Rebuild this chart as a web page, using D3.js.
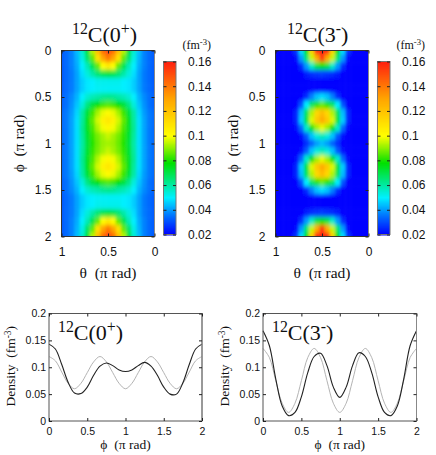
<!DOCTYPE html>
<html>
<head>
<meta charset="utf-8">
<script src="https://cdn.jsdelivr.net/npm/d3@7"></script>
<style>
body { margin: 0; background: #fff; }
svg { display: block; }
text { fill: #111; }
.num { font-family: "Liberation Sans", sans-serif; }
.ser { font-family: "Liberation Serif", serif; }
</style>
</head>
<body>
<div id="chart-area"></div>
<script>
// density, in 10^-3 fm^-3
// one row per phi step of 1/12 pi, columns run across theta
const map0 = [
	[32,34,37,44,55,72,94,122,142,152,142,122,94,72,55,44,37,34,32],
	[32,34,37,43,53,67,86,110,130,140,130,110,86,67,53,43,37,34,32],
	[32,34,37,42,50,58,70,86,100,107,100,86,70,58,50,42,37,34,32],
	[32,34,36,41,48,54,60,66,70,72,70,66,60,54,48,41,36,34,32],
	[32,34,36,41,46,49,50,52,52,52,52,52,50,49,46,41,36,34,32],
	[32,34,36,41,46,49,50,51,51,51,51,51,50,49,46,41,36,34,32],
	[33,35,38,43,50,55,58,60,62,63,62,60,58,55,50,43,38,35,33],
	[33,35,39,45,54,64,72,78,83,85,83,78,72,64,54,45,39,35,33],
	[34,36,40,47,60,72,83,92,98,101,98,92,83,72,60,47,40,36,34],
	[34,36,41,48,61,75,86,96,104,108,104,96,86,75,61,48,41,36,34],
	[34,36,41,48,62,74,84,93,99,102,99,93,84,74,62,48,41,36,34],
	[34,36,41,48,61,73,82,88,92,95,92,88,82,73,61,48,41,36,34],
	[34,36,41,48,60,72,81,87,91,92,91,87,81,72,60,48,41,36,34],
	[34,36,41,48,61,73,82,88,92,95,92,88,82,73,61,48,41,36,34],
	[34,36,41,48,62,74,84,93,99,102,99,93,84,74,62,48,41,36,34],
	[34,36,41,48,61,75,86,96,104,108,104,96,86,75,61,48,41,36,34],
	[34,36,40,47,60,72,83,92,98,101,98,92,83,72,60,47,40,36,34],
	[33,35,39,45,54,64,72,78,83,85,83,78,72,64,54,45,39,35,33],
	[33,35,38,43,50,55,58,60,62,63,62,60,58,55,50,43,38,35,33],
	[32,34,36,41,46,49,50,51,51,51,51,51,50,49,46,41,36,34,32],
	[32,34,36,41,46,49,50,52,52,52,52,52,50,49,46,41,36,34,32],
	[32,34,36,41,48,54,60,66,70,72,70,66,60,54,48,41,36,34,32],
	[32,34,37,42,50,58,70,86,100,107,100,86,70,58,50,42,37,34,32],
	[32,34,37,43,53,67,86,110,130,140,130,110,86,67,53,43,37,34,32],
	[32,34,37,44,55,72,94,122,142,152,142,122,94,72,55,44,37,34,32]
]
const map3 = [
	[14,14,15,18,27,48,78,115,165,190,165,115,78,48,27,18,15,14,14],
	[14,14,15,16,22,40,66,95,128,155,128,95,66,40,22,16,15,14,14],
	[14,14,15,15,17,26,40,56,70,78,70,56,40,26,17,15,15,14,14],
	[13,13,14,15,17,20,24,26,27,28,27,26,24,20,17,15,14,13,13],
	[12,12,12,12,12,12,12,12,12,12,12,12,12,12,12,12,12,12,12],
	[13,13,14,14,15,16,18,19,20,20,20,19,18,16,15,14,14,13,13],
	[13,13,14,15,15,19,26,37,45,48,45,37,26,19,15,15,14,13,13],
	[14,14,15,15,20,31,50,67,81,87,81,67,50,31,20,15,15,14,14],
	[14,14,15,17,25,44,68,93,113,122,113,93,68,44,25,17,15,14,14],
	[14,14,15,17,25,46,71,97,118,128,118,97,71,46,25,17,15,14,14],
	[14,14,15,16,21,34,56,76,92,98,92,76,56,34,21,16,15,14,14],
	[14,14,14,15,16,22,32,45,54,58,54,45,32,22,16,15,14,14,14],
	[14,14,14,14,16,20,26,33,40,44,40,33,26,20,16,14,14,14,14],
	[14,14,14,15,16,22,32,45,54,58,54,45,32,22,16,15,14,14,14],
	[14,14,15,16,21,34,56,76,92,98,92,76,56,34,21,16,15,14,14],
	[14,14,15,17,25,46,71,97,118,128,118,97,71,46,25,17,15,14,14],
	[14,14,15,17,25,44,68,93,113,122,113,93,68,44,25,17,15,14,14],
	[14,14,15,15,20,31,50,67,81,87,81,67,50,31,20,15,15,14,14],
	[13,13,14,15,15,19,26,37,45,48,45,37,26,19,15,15,14,13,13],
	[13,13,14,14,15,16,18,19,20,20,20,19,18,16,15,14,14,13,13],
	[12,12,12,12,12,12,12,12,12,12,12,12,12,12,12,12,12,12,12],
	[13,13,14,15,17,20,24,26,27,28,27,26,24,20,17,15,14,13,13],
	[14,14,15,15,17,26,40,56,70,78,70,56,40,26,17,15,15,14,14],
	[14,14,15,16,22,40,66,95,128,155,128,95,66,40,22,16,15,14,14],
	[14,14,15,18,27,48,78,115,165,190,165,115,78,48,27,18,15,14,14]
]

// line plots, same phi steps
const phiSteps = [0,1/12,2/12,3/12,4/12,5/12,6/12,7/12,8/12,9/12,10/12,11/12,1,13/12,14/12,15/12,16/12,17/12,18/12,19/12,20/12,21/12,22/12,23/12,2]
const black0 = [.143,.134,.105,.072,.052,.051,.063,.085,.102,.108,.103,.095,.092,.095,.103,.109,.102,.085,.063,.05,.05,.071,.105,.134,.143]
const grey0 = [.12,.112,.091,.07,.06,.07,.09,.11,.12,.11,.09,.07,.06,.07,.09,.11,.12,.11,.09,.07,.06,.07,.091,.112,.12]
const black3 = [.168,.14,.078,.028,.01,.016,.045,.09,.12,.126,.103,.063,.044,.063,.103,.127,.12,.09,.045,.016,.01,.028,.078,.14,.168]
const grey3 = [.135,.118,.075,.033,.016,.033,.075,.118,.135,.118,.075,.033,.016,.033,.075,.118,.135,.118,.075,.033,.016,.033,.075,.118,.135]

const thetaTicks = [1, 0.5, 0]
const phiTicks = [0, 0.5, 1, 1.5, 2]
const colorTicks = [0.02, 0.04, 0.06, 0.08, 0.1, 0.12, 0.14, 0.16]
const densityTicks = [0, 0.05, 0.1, 0.15, 0.2]
const lineTicks = [0, 0.5, 1, 1.5, 2]

const color = d3.scaleLinear()
	.domain([0.02, 0.035, 0.05, 0.078, 0.1, 0.13, 0.16])
	.range(["#0000ff", "#0070ff", "#00f0ff", "#00e000", "#ffff00", "#ffa500", "#ff2010"])
	.clamp(true)

const svg = d3.select("#chart-area").append("svg")
	.attr("width", 436)
	.attr("height", 455)

const defs = svg.append("defs")
defs.append("filter")
	.attr("id", "soft")
	.attr("filterUnits", "userSpaceOnUse")
	.attr("x", 0).attr("y", 0).attr("width", 436).attr("height", 455)
	.append("feGaussianBlur")
	.attr("stdDeviation", "1.5 2.1")

function styleAxis(a, col) {
	a.select(".domain").remove()
	a.selectAll(".tick line").attr("stroke", col || "#222")
	a.selectAll("text").attr("class", "num").style("font-size", "12px")
}

// 12C(0+) style label, the charge sign and mass number are raised
function isotope(parent, x, y, size, spin, sign) {
	const t = parent.append("text")
		.attr("class", "ser")
		.attr("x", x).attr("y", y)
		.style("font-size", size + "px")
	t.append("tspan").attr("dy", -size * 0.36).style("font-size", size * 0.72 + "px").text("12")
	t.append("tspan").attr("dy", size * 0.36).text("C(" + spin)
	t.append("tspan").attr("dy", -size * 0.38).style("font-size", size * 0.72 + "px").text(sign)
	t.append("tspan").attr("dy", size * 0.38).text(")")
}

function unitLabel(parent, x, y, size) {
	const t = parent.append("text").attr("class", "ser")
		.attr("x", x).attr("y", y).style("font-size", size + "px")
	t.append("tspan").text("(fm")
	t.append("tspan").attr("dy", -4).style("font-size", size * 0.72 + "px").text("-3")
	t.append("tspan").attr("dy", 4).text(")")
}

function heatPanel(id, grid, left, right, barLeft, spin, sign, titleX) {
	const top = 50.5, bottom = 236.5
	const x = d3.scaleLinear().domain([1, 0]).range([left, right])
	const y = d3.scaleLinear().domain([0, 2]).range([top, bottom])
	const rows = grid.length, cols = grid[0].length
	const th = d3.range(cols).map(i => 1 - i / (cols - 1))

	defs.append("clipPath").attr("id", "clip" + id).append("rect")
		.attr("x", left).attr("y", top)
		.attr("width", right - left).attr("height", bottom - top)

	const cells = svg.append("g").attr("clip-path", `url(#clip${id})`)
		.append("g").attr("filter", "url(#soft)")
	const dx = (right - left) / (cols - 1), dy = (bottom - top) / (rows - 1)
	grid.forEach((row, r) => {
		row.forEach((v, c) => {
			// outer cells run past the clip so the blur keeps its colour at the border
			const x0 = c === 0 ? x(th[c]) - 12 : x(th[c]) - dx / 2
			const x1 = c === cols - 1 ? x(th[c]) + 12 : x(th[c]) + dx / 2
			const y0 = r === 0 ? y(phiSteps[r]) - 12 : y(phiSteps[r]) - dy / 2
			const y1 = r === rows - 1 ? y(phiSteps[r]) + 12 : y(phiSteps[r]) + dy / 2
			cells.append("rect")
				.attr("x", x0).attr("y", y0)
				.attr("width", x1 - x0 + 0.5).attr("height", y1 - y0 + 0.5)
				.attr("fill", color(v / 1000))
		})
	})

	// frame and ticks
	svg.append("rect").attr("x", left).attr("y", top)
		.attr("width", right - left).attr("height", bottom - top)
		.attr("fill", "none").attr("stroke", "#333").attr("stroke-width", 1)
	svg.append("line").attr("x1", right).attr("x2", right).attr("y1", top).attr("y2", bottom)
		.attr("stroke", "#888")

	const yAxis = svg.append("g").attr("transform", `translate(${left},0)`)
		.call(d3.axisLeft(y).tickValues(phiTicks).tickSize(-3).tickPadding(10).tickFormat(d3.format("")))
	styleAxis(yAxis)
	svg.append("g").attr("transform", `translate(${right},0)`)
		.call(d3.axisRight(y).tickValues(phiTicks).tickSize(-3).tickFormat(""))
		.call(a => styleAxis(a))
	const xAxis = svg.append("g").attr("transform", `translate(0,${bottom})`)
		.call(d3.axisBottom(x).tickValues(thetaTicks).tickSize(-3).tickPadding(11).tickFormat(d3.format("")))
	styleAxis(xAxis)
	svg.append("g").attr("transform", `translate(0,${top})`)
		.call(d3.axisTop(x).tickValues(thetaTicks).tickSize(-3).tickFormat(""))
		.call(a => styleAxis(a))

	svg.append("text").attr("class", "ser")
		.attr("x", (left + right) / 2).attr("y", 278)
		.attr("text-anchor", "middle").style("font-size", "15.5px")
		.text("θ  (π rad)").attr("xml:space", "preserve")
	svg.append("text").attr("class", "ser")
		.attr("transform", `translate(${left - 38},${(top + bottom) / 2}) rotate(-90)`)
		.attr("text-anchor", "middle").style("font-size", "15.5px")
		.text("ϕ  (π rad)").attr("xml:space", "preserve")

	isotope(svg, titleX, 42, 22, spin, sign)

	// colour bar
	const barW = 12.5
	const cy = d3.scaleLinear().domain([0.02, 0.16]).range([234.5, 61.5])
	const bar = svg.append("g")
	d3.range(20, 160).forEach(m => {
		const v = m / 1000
		bar.append("rect")
			.attr("x", barLeft).attr("y", cy(v + 0.001))
			.attr("width", barW).attr("height", cy(v) - cy(v + 0.001) + 1)
			.attr("fill", color(v))
	})
	svg.append("rect").attr("x", barLeft).attr("y", 61.5)
		.attr("width", barW).attr("height", 173)
		.attr("fill", "none").attr("stroke", "#777")
	const cAxis = svg.append("g").attr("transform", `translate(${barLeft + barW},0)`)
		.call(d3.axisRight(cy).tickValues(colorTicks).tickSize(-3).tickPadding(12).tickFormat(d3.format("")))
	styleAxis(cAxis)
	svg.append("g").attr("transform", `translate(${barLeft},0)`)
		.call(d3.axisLeft(cy).tickValues(colorTicks).tickSize(-3).tickFormat(""))
		.call(a => styleAxis(a))
	unitLabel(svg, barLeft + 19, 49, 12)
}

function linePanel(black, grey, left, right, spin, sign, titleX) {
	const top = 313.5, bottom = 421
	const x = d3.scaleLinear().domain([0, 2]).range([left, right])
	const y = d3.scaleLinear().domain([0, 0.2]).range([bottom, top])
	const line = d3.line()
		.x((d, i) => x(phiSteps[i]))
		.y(d => y(d))
		.curve(d3.curveCatmullRom.alpha(0.5))

	svg.append("path").attr("d", line(grey))
		.attr("fill", "none").attr("stroke", "#aaa").attr("stroke-width", 0.9)
	svg.append("path").attr("d", line(black))
		.attr("fill", "none").attr("stroke", "#222").attr("stroke-width", 1.1)

	svg.append("rect").attr("x", left).attr("y", top)
		.attr("width", right - left).attr("height", bottom - top)
		.attr("fill", "none").attr("stroke", "#555").attr("stroke-width", 1)
	svg.append("line").attr("x1", right).attr("x2", right).attr("y1", top).attr("y2", bottom)
		.attr("stroke", "#888")

	const yAxis = svg.append("g").attr("transform", `translate(${left},0)`)
		.call(d3.axisLeft(y).tickValues(densityTicks).tickSize(-3).tickPadding(3).tickFormat(d3.format("")))
	styleAxis(yAxis)
	yAxis.selectAll("text").style("font-size", "10.5px")
	svg.append("g").attr("transform", `translate(${right},0)`)
		.call(d3.axisRight(y).tickValues(densityTicks).tickSize(-3).tickFormat(""))
		.call(a => styleAxis(a))
	const xAxis = svg.append("g").attr("transform", `translate(0,${bottom})`)
		.call(d3.axisBottom(x).tickValues(lineTicks).tickSize(-3).tickPadding(7).tickFormat(d3.format("")))
	styleAxis(xAxis)
	xAxis.selectAll("text").style("font-size", "10.5px")
	svg.append("g").attr("transform", `translate(0,${top})`)
		.call(d3.axisTop(x).tickValues(lineTicks).tickSize(-3).tickFormat(""))
		.call(a => styleAxis(a))

	svg.append("text").attr("class", "ser")
		.attr("x", (left + right) / 2).attr("y", 449)
		.attr("text-anchor", "middle").style("font-size", "13.5px")
		.text("ϕ  (π rad)").attr("xml:space", "preserve")

	const yl = svg.append("text").attr("class", "ser")
		.attr("transform", `translate(${left - 34},${(top + bottom) / 2 - 1}) rotate(-90)`)
		.attr("text-anchor", "middle").style("font-size", "13.5px")
		.attr("xml:space", "preserve")
	yl.append("tspan").text("Density  (fm")
	yl.append("tspan").attr("dy", -4).style("font-size", "9.5px").text("-3")
	yl.append("tspan").attr("dy", 4).text(")")

	isotope(svg, titleX, 340, 22, spin, sign)
}

heatPanel("a", map0, 61.5, 154.5, 163.5, "0", "+", 72)
heatPanel("b", map3, 275.5, 368.5, 377.5, "3", "-", 287)
linePanel(black0, grey0, 49, 202, "0", "+", 58)
linePanel(black3, grey3, 263, 416.5, "3", "-", 272)
</script>
</body>
</html>
